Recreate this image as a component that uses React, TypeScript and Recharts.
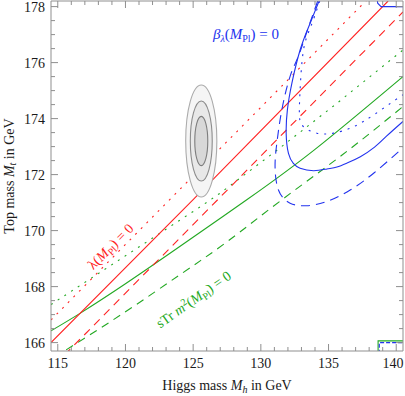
import { ComposedChart, Line, Scatter, XAxis, YAxis } from 'recharts';

const W = 405;
const H = 396;
const PLOT = { left: 51, right: 403, top: 1, bottom: 351 };
const X_DOMAIN: [number, number] = [114.5, 140.5];
const Y_DOMAIN: [number, number] = [165.7, 178.2];

const FRAME = '#8f8f8f';
const RED = '#f22';
const GREEN = '#22a822';
const BLUE = '#2233ee';
const FONT = '"Liberation Serif", "DejaVu Serif", serif';

const xTicks = [115, 116, 117, 118, 119, 120, 121, 122, 123, 124, 125, 126, 127, 128, 129, 130, 131, 132, 133, 134, 135, 136, 137, 138, 139, 140];
const yTicks = [166, 166.5, 167, 167.5, 168, 168.5, 169, 169.5, 170, 170.5, 171, 171.5, 172, 172.5, 173, 173.5, 174, 174.5, 175, 175.5, 176, 176.5, 177, 177.5, 178];

// lambda(M_Pl) = 0 : central value and uncertainties
const redSolid = [
  { x: 114.5, y: 166.0 },
  { x: 125, y: 171.11 },
  { x: 139.4, y: 178.2 },
];
const redDashed = [
  { x: 115.5, y: 165.56 },
  { x: 140.5, y: 177.81 },
];
const redDotted = [
  { x: 114.5, y: 166.81 },
  { x: 138.3, y: 178.47 },
];

// sTr m^2(M_Pl) = 0
const greenSolid = [
  { x: 114.5, y: 166.42 },
  { x: 116.73, y: 167.07 },
  { x: 120, y: 168.1 },
  { x: 124.01, y: 169.43 },
  { x: 128.96, y: 171.1 },
  { x: 134, y: 172.9 },
  { x: 140.5, y: 175.5 },
];
const greenDashed = [
  { x: 115.62, y: 165.74 },
  { x: 120, y: 167.1 },
  { x: 124.01, y: 168.42 },
  { x: 127.5, y: 169.6 },
  { x: 131.55, y: 171.1 },
  { x: 136, y: 172.7 },
  { x: 140.5, y: 174.43 },
];
const greenDotted = [
  { x: 114.5, y: 167.36 },
  { x: 120, y: 169.1 },
  { x: 125.37, y: 170.8 },
  { x: 127, y: 171.34 },
  { x: 131, y: 172.8 },
  { x: 135.5, y: 174.5 },
  { x: 140.5, y: 176.45 },
];

// beta_lambda(M_Pl) = 0
const blueSolid = [
  { x: 134.3, y: 178.2 },
  { x: 133.55, y: 177.3 },
  { x: 132.9, y: 176.45 },
  { x: 132.29, y: 175.26 },
  { x: 131.96, y: 174.31 },
  { x: 131.87, y: 173.48 },
  { x: 132.04, y: 172.76 },
  { x: 132.4, y: 172.4 },
  { x: 132.9, y: 172.23 },
  { x: 133.89, y: 172.14 },
  { x: 134.88, y: 172.2 },
  { x: 135.62, y: 172.27 },
  { x: 136.4, y: 172.42 },
  { x: 137.35, y: 172.64 },
  { x: 138.4, y: 172.98 },
  { x: 139.3, y: 173.38 },
  { x: 140.5, y: 173.9 },
];
const blueDashed = [
  { x: 134.2, y: 178.2 },
  { x: 133.4, y: 177.1 },
  { x: 132.75, y: 176.2 },
  { x: 132.16, y: 175.51 },
  { x: 131.55, y: 174.31 },
  { x: 131.18, y: 173.12 },
  { x: 131.05, y: 172.29 },
  { x: 131.3, y: 171.45 },
  { x: 132.16, y: 170.98 },
  { x: 133.4, y: 170.89 },
  { x: 134.88, y: 171.04 },
  { x: 136.6, y: 171.45 },
  { x: 138.33, y: 172.05 },
  { x: 140.5, y: 172.96 },
];
const blueDotted = [
  { x: 134.35, y: 178.2 },
  { x: 133.7, y: 177.3 },
  { x: 133.15, y: 176.45 },
  { x: 132.9, y: 175.03 },
  { x: 132.85, y: 174.1 },
  { x: 133.15, y: 173.71 },
  { x: 134.14, y: 173.48 },
  { x: 135.37, y: 173.48 },
  { x: 136.85, y: 173.71 },
  { x: 138.33, y: 174.13 },
  { x: 139.94, y: 174.67 },
  { x: 140.5, y: 174.85 },
];

// corner artifacts of the contour regions
const blueCornerTop = [
  { x: 138.59, y: 178.3 },
  { x: 138.63, y: 178.12 },
  { x: 138.88, y: 178.0 },
  { x: 140.6, y: 178.0 },
];
const greenCornerBottom = [
  { x: 138.66, y: 165.6 },
  { x: 138.66, y: 166.06 },
  { x: 140.6, y: 166.06 },
];
const blueCornerBottom = [
  { x: 138.75, y: 165.6 },
  { x: 138.75, y: 166.0 },
  { x: 140.6, y: 166.0 },
];

// experimental ellipses (1, 2, 3 sigma) in GeV
const ellipses = [
  { x: 125.6, y: 173.2, rx: 1.15, ry: 2.0, fill: '#f5f5f5', stroke: '#ababab' },
  { x: 125.6, y: 173.2, rx: 0.81, ry: 1.43, fill: '#e8e8e8', stroke: '#8c8c8c' },
  { x: 125.6, y: 173.2, rx: 0.48, ry: 0.88, fill: '#d8d8d8', stroke: '#7d7d7d' },
];

const pxPerX = (PLOT.right - PLOT.left) / (X_DOMAIN[1] - X_DOMAIN[0]);
const pxPerY = (PLOT.bottom - PLOT.top) / (Y_DOMAIN[1] - Y_DOMAIN[0]);

const EllipseShape = (props: any) => {
  const { cx, cy, payload } = props;
  return (
    <ellipse
      cx={cx}
      cy={cy}
      rx={payload.rx * pxPerX}
      ry={payload.ry * pxPerY}
      fill={payload.fill}
      stroke={payload.stroke}
      strokeWidth={1.1}
    />
  );
};

const BottomTick = ({ x, y, payload }: any) => {
  const major = payload.value % 5 === 0;
  return (
    <g>
      <line x1={x} x2={x} y1={y} y2={y - (major ? 7 : 4)} stroke={FRAME} />
      {major && (
        <text
          x={Math.min(x, W - 12)}
          y={y + 17}
          textAnchor="middle"
          fontSize={14}
          fontFamily={FONT}
          fill="#1a1a1a"
        >
          {payload.value}
        </text>
      )}
    </g>
  );
};

const TopTick = ({ x, y, payload }: any) => {
  const major = payload.value % 5 === 0;
  return <line x1={x} x2={x} y1={y} y2={y + (major ? 7 : 4)} stroke={FRAME} />;
};

const LeftTick = ({ x, y, payload }: any) => {
  const major = payload.value % 2 === 0;
  return (
    <g>
      <line x1={x} x2={x + (major ? 7 : 4)} y1={y} y2={y} stroke={FRAME} />
      {major && (
        <text x={x - 6} y={y + 5} textAnchor="end" fontSize={14} fontFamily={FONT} fill="#1a1a1a">
          {payload.value}
        </text>
      )}
    </g>
  );
};

const RightTick = ({ x, y, payload }: any) => {
  const major = payload.value % 2 === 0;
  return <line x1={x} x2={x - (major ? 7 : 4)} y1={y} y2={y} stroke={FRAME} />;
};

const curve = (data: any[], color: string, dash?: string, type: any = 'linear') => (
  <Line
    data={data}
    dataKey="y"
    type={type}
    stroke={color}
    strokeWidth={1.1}
    strokeDasharray={dash}
    dot={false}
    activeDot={false}
    isAnimationActive={false}
  />
);

export default function App() {
  return (
    <div style={{ position: 'absolute', left: 0, top: 0, width: W, height: H, background: '#fff' }}>
      <ComposedChart width={W} height={H} margin={{ top: 0, right: 0, bottom: 0, left: 0 }}>
        <XAxis
          dataKey="x"
          type="number"
          domain={X_DOMAIN}
          allowDataOverflow
          ticks={xTicks}
          interval={0}
          height={H - PLOT.bottom}
          tickSize={0}
          tickMargin={0}
          tickLine={false}
          axisLine={{ stroke: FRAME }}
          tick={<BottomTick />}
        />
        <XAxis
          xAxisId="top"
          orientation="top"
          dataKey="x"
          type="number"
          domain={X_DOMAIN}
          allowDataOverflow
          ticks={xTicks}
          interval={0}
          height={PLOT.top}
          tickSize={0}
          tickMargin={0}
          tickLine={false}
          axisLine={{ stroke: FRAME }}
          tick={<TopTick />}
        />
        <YAxis
          dataKey="y"
          type="number"
          domain={Y_DOMAIN}
          allowDataOverflow
          ticks={yTicks}
          interval={0}
          width={PLOT.left}
          tickSize={0}
          tickMargin={0}
          tickLine={false}
          axisLine={{ stroke: FRAME }}
          tick={<LeftTick />}
        />
        <YAxis
          yAxisId="right"
          orientation="right"
          dataKey="y"
          type="number"
          domain={Y_DOMAIN}
          allowDataOverflow
          ticks={yTicks}
          interval={0}
          width={W - PLOT.right}
          tickSize={0}
          tickMargin={0}
          tickLine={false}
          axisLine={{ stroke: FRAME }}
          tick={<RightTick />}
        />
        <Scatter data={ellipses} dataKey="y" shape={<EllipseShape />} isAnimationActive={false} />
        {curve(greenDotted, GREEN, '2 6')}
        {curve(greenDashed, GREEN, '8 6', 'natural')}
        {curve(greenSolid, GREEN, undefined, 'natural')}
        {curve(redDotted, RED, '2 6')}
        {curve(redDashed, RED, '8 6')}
        {curve(redSolid, RED)}
        {curve(blueDotted, BLUE, '2 6', 'natural')}
        {curve(blueDashed, BLUE, '9 6', 'natural')}
        {curve(blueSolid, BLUE, undefined, 'natural')}
        {curve(blueCornerTop, BLUE)}
        {curve(greenCornerBottom, GREEN)}
        {curve(blueCornerBottom, BLUE, '4 2')}
      </ComposedChart>
      <svg
        width={W}
        height={H}
        style={{ position: 'absolute', left: 0, top: 0, pointerEvents: 'none' }}
        fontFamily={FONT}
      >
        <text x={227} y={390} textAnchor="middle" fontSize={14} fill="#1a1a1a">
          Higgs mass <tspan fontStyle="italic">M</tspan>
          <tspan fontStyle="italic" fontSize={10} dy={3}>h</tspan>
          <tspan dy={-3}> in GeV</tspan>
        </text>
        <text
          x={9}
          y={176}
          textAnchor="middle"
          dominantBaseline="central"
          fontSize={14}
          fill="#1a1a1a"
          transform="rotate(-90, 9, 176)"
        >
          Top mass <tspan fontStyle="italic">M</tspan>
          <tspan fontStyle="italic" fontSize={10} dy={3}>t</tspan>
          <tspan dy={-3}> in GeV</tspan>
        </text>
        <text x={246} y={39} textAnchor="middle" fontSize={15} fill={BLUE}>
          <tspan fontStyle="italic">β</tspan>
          <tspan fontStyle="italic" fontSize={10} dy={3}>λ</tspan>
          <tspan dy={-3}>(</tspan>
          <tspan fontStyle="italic">M</tspan>
          <tspan fontSize={10} dy={3}>Pl</tspan>
          <tspan dy={-3}>) = 0</tspan>
        </text>
        <text
          x={111}
          y={251}
          textAnchor="middle"
          fontSize={14}
          fill={RED}
          transform="rotate(-45, 111, 247)"
        >
          λ(<tspan fontStyle="italic">M</tspan>
          <tspan fontSize={10} dy={3}>Pl</tspan>
          <tspan dy={-3}>) = 0</tspan>
        </text>
        <text
          x={194}
          y={304}
          textAnchor="middle"
          fontSize={14}
          fill={GREEN}
          transform="rotate(-35, 194, 300)"
        >
          sTr <tspan fontStyle="italic">m</tspan>
          <tspan fontSize={10} dy={-5}>2</tspan>
          <tspan dy={5}>(</tspan>
          <tspan fontStyle="italic">M</tspan>
          <tspan fontSize={10} dy={3}>Pl</tspan>
          <tspan dy={-3}>) = 0</tspan>
        </text>
      </svg>
    </div>
  );
}
